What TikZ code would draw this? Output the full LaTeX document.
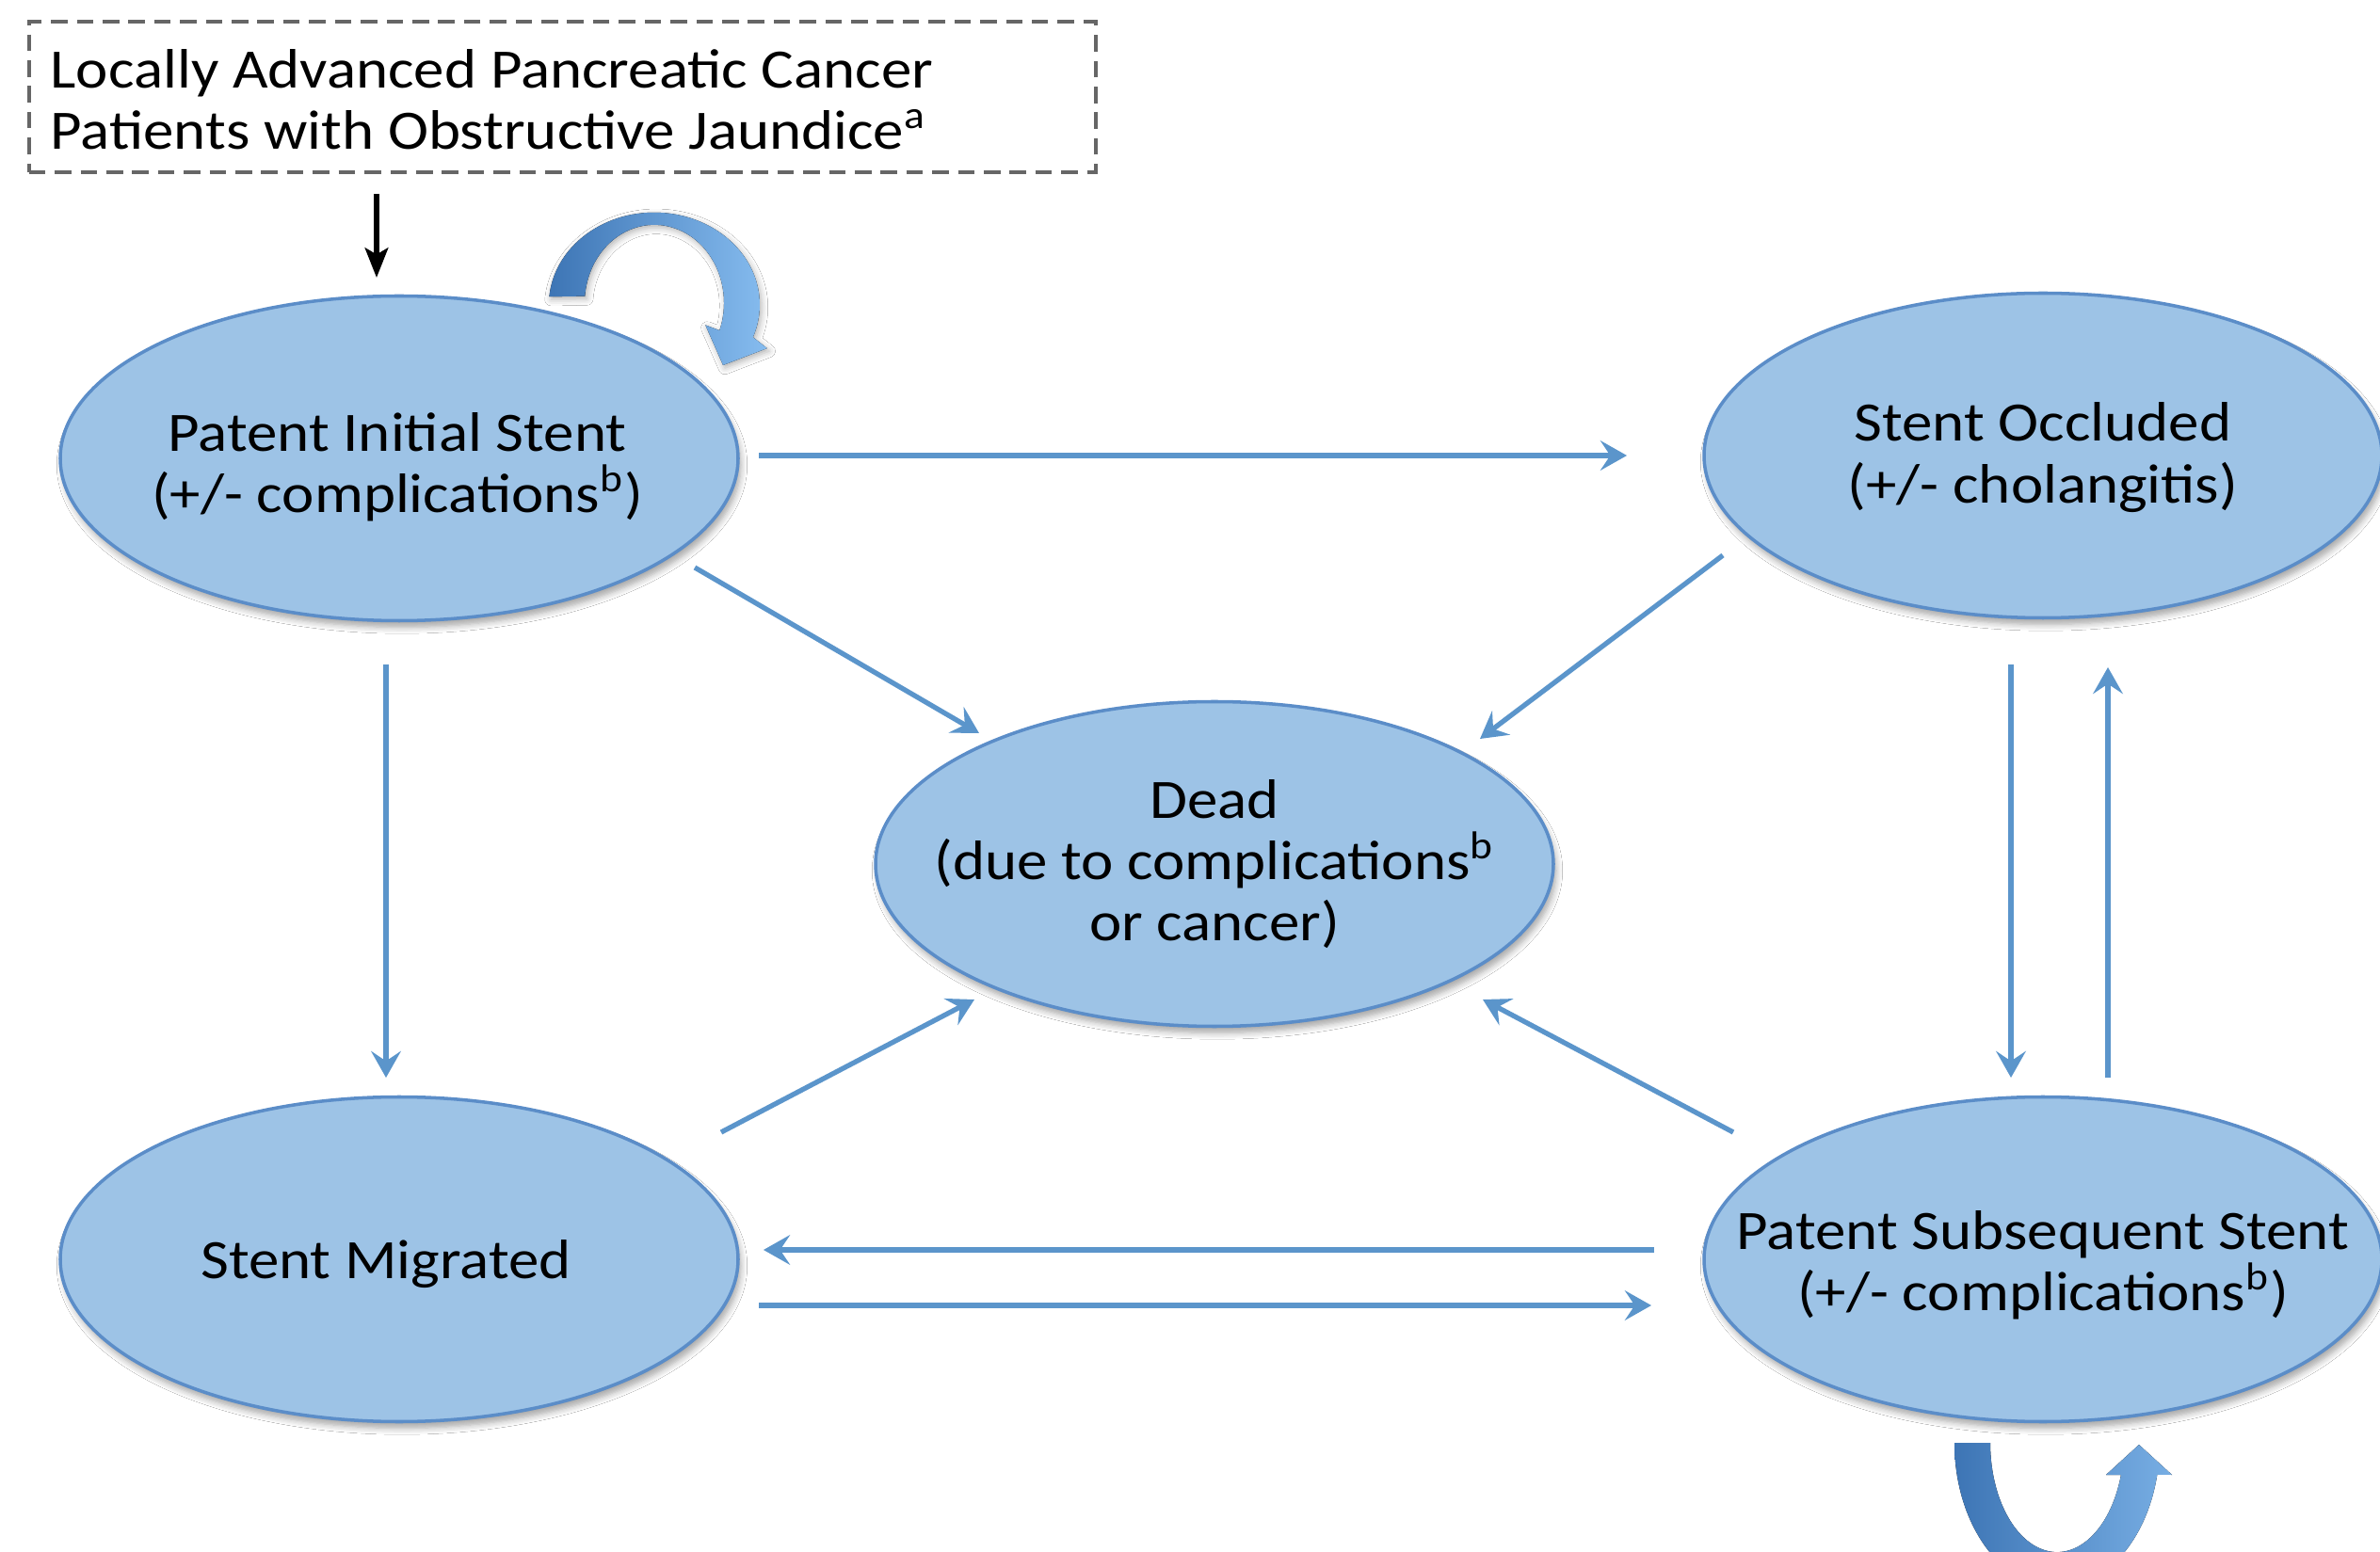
\documentclass[tikz,border=0pt]{standalone}
\usepackage{fontspec}
\setmainfont[FakeStretch=1.1]{Carlito}
\usetikzlibrary{shapes.geometric,arrows.meta,shadows.blur,calc}
\definecolor{efill}{HTML}{9DC3E6}
\definecolor{edraw}{HTML}{5B8DC8}
\definecolor{lblue}{HTML}{5B95CB}
\definecolor{cdark}{HTML}{3D75B5}
\definecolor{clight}{HTML}{86BCEF}
\begin{document}
\begin{tikzpicture}[
  state/.style={ellipse, fill=efill, draw=edraw, line width=1pt, minimum width=7.2cm, minimum height=3.45cm, inner sep=0pt,
    blur shadow={shadow xshift=0.03cm, shadow yshift=-0.07cm, shadow blur steps=6, shadow opacity=35}},
  lbl/.style={align=center, font=\fontsize{16.8}{18.6}\selectfont, inner sep=0pt},
  conn/.style={draw=lblue, line width=1.5pt, -{Stealth[length=8pt, width=9pt, inset=3pt]}},
  curv/.style={left color=cdark, right color=clight, draw=none}
]
\clip (0,0) rectangle (25.28,-16.49);
\useasboundingbox (0,0) rectangle (25.28,-16.49);
\fill[white] (0,0) rectangle (25.28,-16.49);

% start box
\node[draw=black!60, dash pattern=on 5pt off 2.8pt, line width=1pt, minimum width=11.33cm, minimum height=1.60cm, anchor=north west, inner sep=0pt] (start) at (0.29,-0.21) {};
\node[lbl, align=left, anchor=west] (startt) at (0.53,-1.06) {Locally Advanced Pancreatic Cancer\\Patients with Obstructive Jaundice\textsuperscript{a}};

% states
\node[state] (pis) at (4.24,-4.87) {};
\node[state] (so) at (21.70,-4.84) {};
\node[state] (dead) at (12.90,-9.18) {};
\node[state] (sm) at (4.24,-13.38) {};
\node[state] (pss) at (21.70,-13.38) {};

\node[lbl] (pist) at ($(pis)+(-0.02,-0.09)$) {Patent Initial Stent\\(+/- complications\textsuperscript{b})};
\node[lbl] (sot) at ($(so)+(0,-0.02)$) {Stent Occluded\\(+/- cholangitis)};
\node[lbl] (deadt) at (dead) {Dead\\(due to complications\textsuperscript{b}\\or cancer)};
\node[lbl] (smt) at ($(sm)+(-0.14,-0.05)$) {Stent Migrated};
\node[lbl] (psst) at ($(pss)+(0,-0.06)$) {Patent Subsequent Stent\\(+/- complications\textsuperscript{b})};

% entry arrow
\coordinate (in0) at (4.00,-2.06);
\coordinate (in1) at (4.00,-2.95);
\draw[black, line width=1.5pt, -{Stealth[length=9pt, width=7pt, inset=2pt]}] (in0) -- (in1);

% connector end points
\coordinate (a1s) at ($(pis)+(3.82,0.03)$);
\coordinate (a1e) at ($(so)+(-4.42,0)$);
\coordinate (a2s) at ($(pis)+(3.14,-1.16)$);
\coordinate (a2e) at ($(dead)+(-2.50,1.39)$);
\coordinate (a3s) at ($(so)+(-3.40,-1.06)$);
\coordinate (a3e) at ($(dead)+(2.82,1.33)$);
\coordinate (a4s) at ($(pis)+(-0.14,-2.19)$);
\coordinate (a4e) at ($(sm)+(-0.14,1.93)$);
\coordinate (a5s) at ($(sm)+(3.42,1.35)$);
\coordinate (a5e) at ($(dead)+(-2.55,-1.44)$);
\coordinate (a6s) at ($(pss)+(-3.29,1.35)$);
\coordinate (a6e) at ($(dead)+(2.85,-1.44)$);
\coordinate (a7s) at ($(so)+(-0.34,-2.22)$);
\coordinate (a7e) at ($(pss)+(-0.34,1.93)$);
\coordinate (a8s) at ($(pss)+(0.69,1.93)$);
\coordinate (a8e) at ($(so)+(0.69,-2.25)$);
\coordinate (a9s) at ($(pss)+(-4.13,0.10)$);
\coordinate (a9e) at ($(sm)+(3.87,0.10)$);
\coordinate (a10s) at ($(sm)+(3.82,-0.49)$);
\coordinate (a10e) at ($(pss)+(-4.16,-0.49)$);

\draw[conn] (a1s) -- (a1e);
\draw[conn] (a2s) -- (a2e);
\draw[conn] (a3s) -- (a3e);
\draw[conn] (a4s) -- (a4e);
\draw[conn] (a5s) -- (a5e);
\draw[conn] (a6s) -- (a6e);
\draw[conn] (a7s) -- (a7e);
\draw[conn] (a8s) -- (a8e);
\draw[conn] (a9s) -- (a9e);
\draw[conn] (a10s) -- (a10e);

% self-loop on Patent Initial Stent
\begin{scope}[shift={(6.95,-3.25)}]
\fill[curv, blur shadow={shadow xshift=0.02cm, shadow yshift=-0.03cm, shadow opacity=30}]
  (175:1.12) arc[start angle=175, end angle=-20.6, x radius=1.12, y radius=0.98]
  -- (-20.6:1.28) -- (0.73,-0.63) -- (-20.6:0.58)
  -- ($(-20.6:0.74)$) arc[start angle=-20.6, end angle=175, x radius=0.74, y radius=0.83] -- cycle;
\end{scope}

% self-loop on Patent Subsequent Stent
\begin{scope}[shift={(21.85,-15.33)}]
\fill[left color=cdark, right color=clight!80!cdark, draw=none]
  (-1.09,0) arc[start angle=180, end angle=347.3, x radius=1.09, y radius=1.54]
  -- (1.22,-0.34) -- (0.87,-0.02) -- (0.52,-0.34) -- (0.679,-0.34)
  arc[start angle=343, end angle=180, x radius=0.71, y radius=1.16] -- cycle;
\end{scope}
\end{tikzpicture}
\end{document}
